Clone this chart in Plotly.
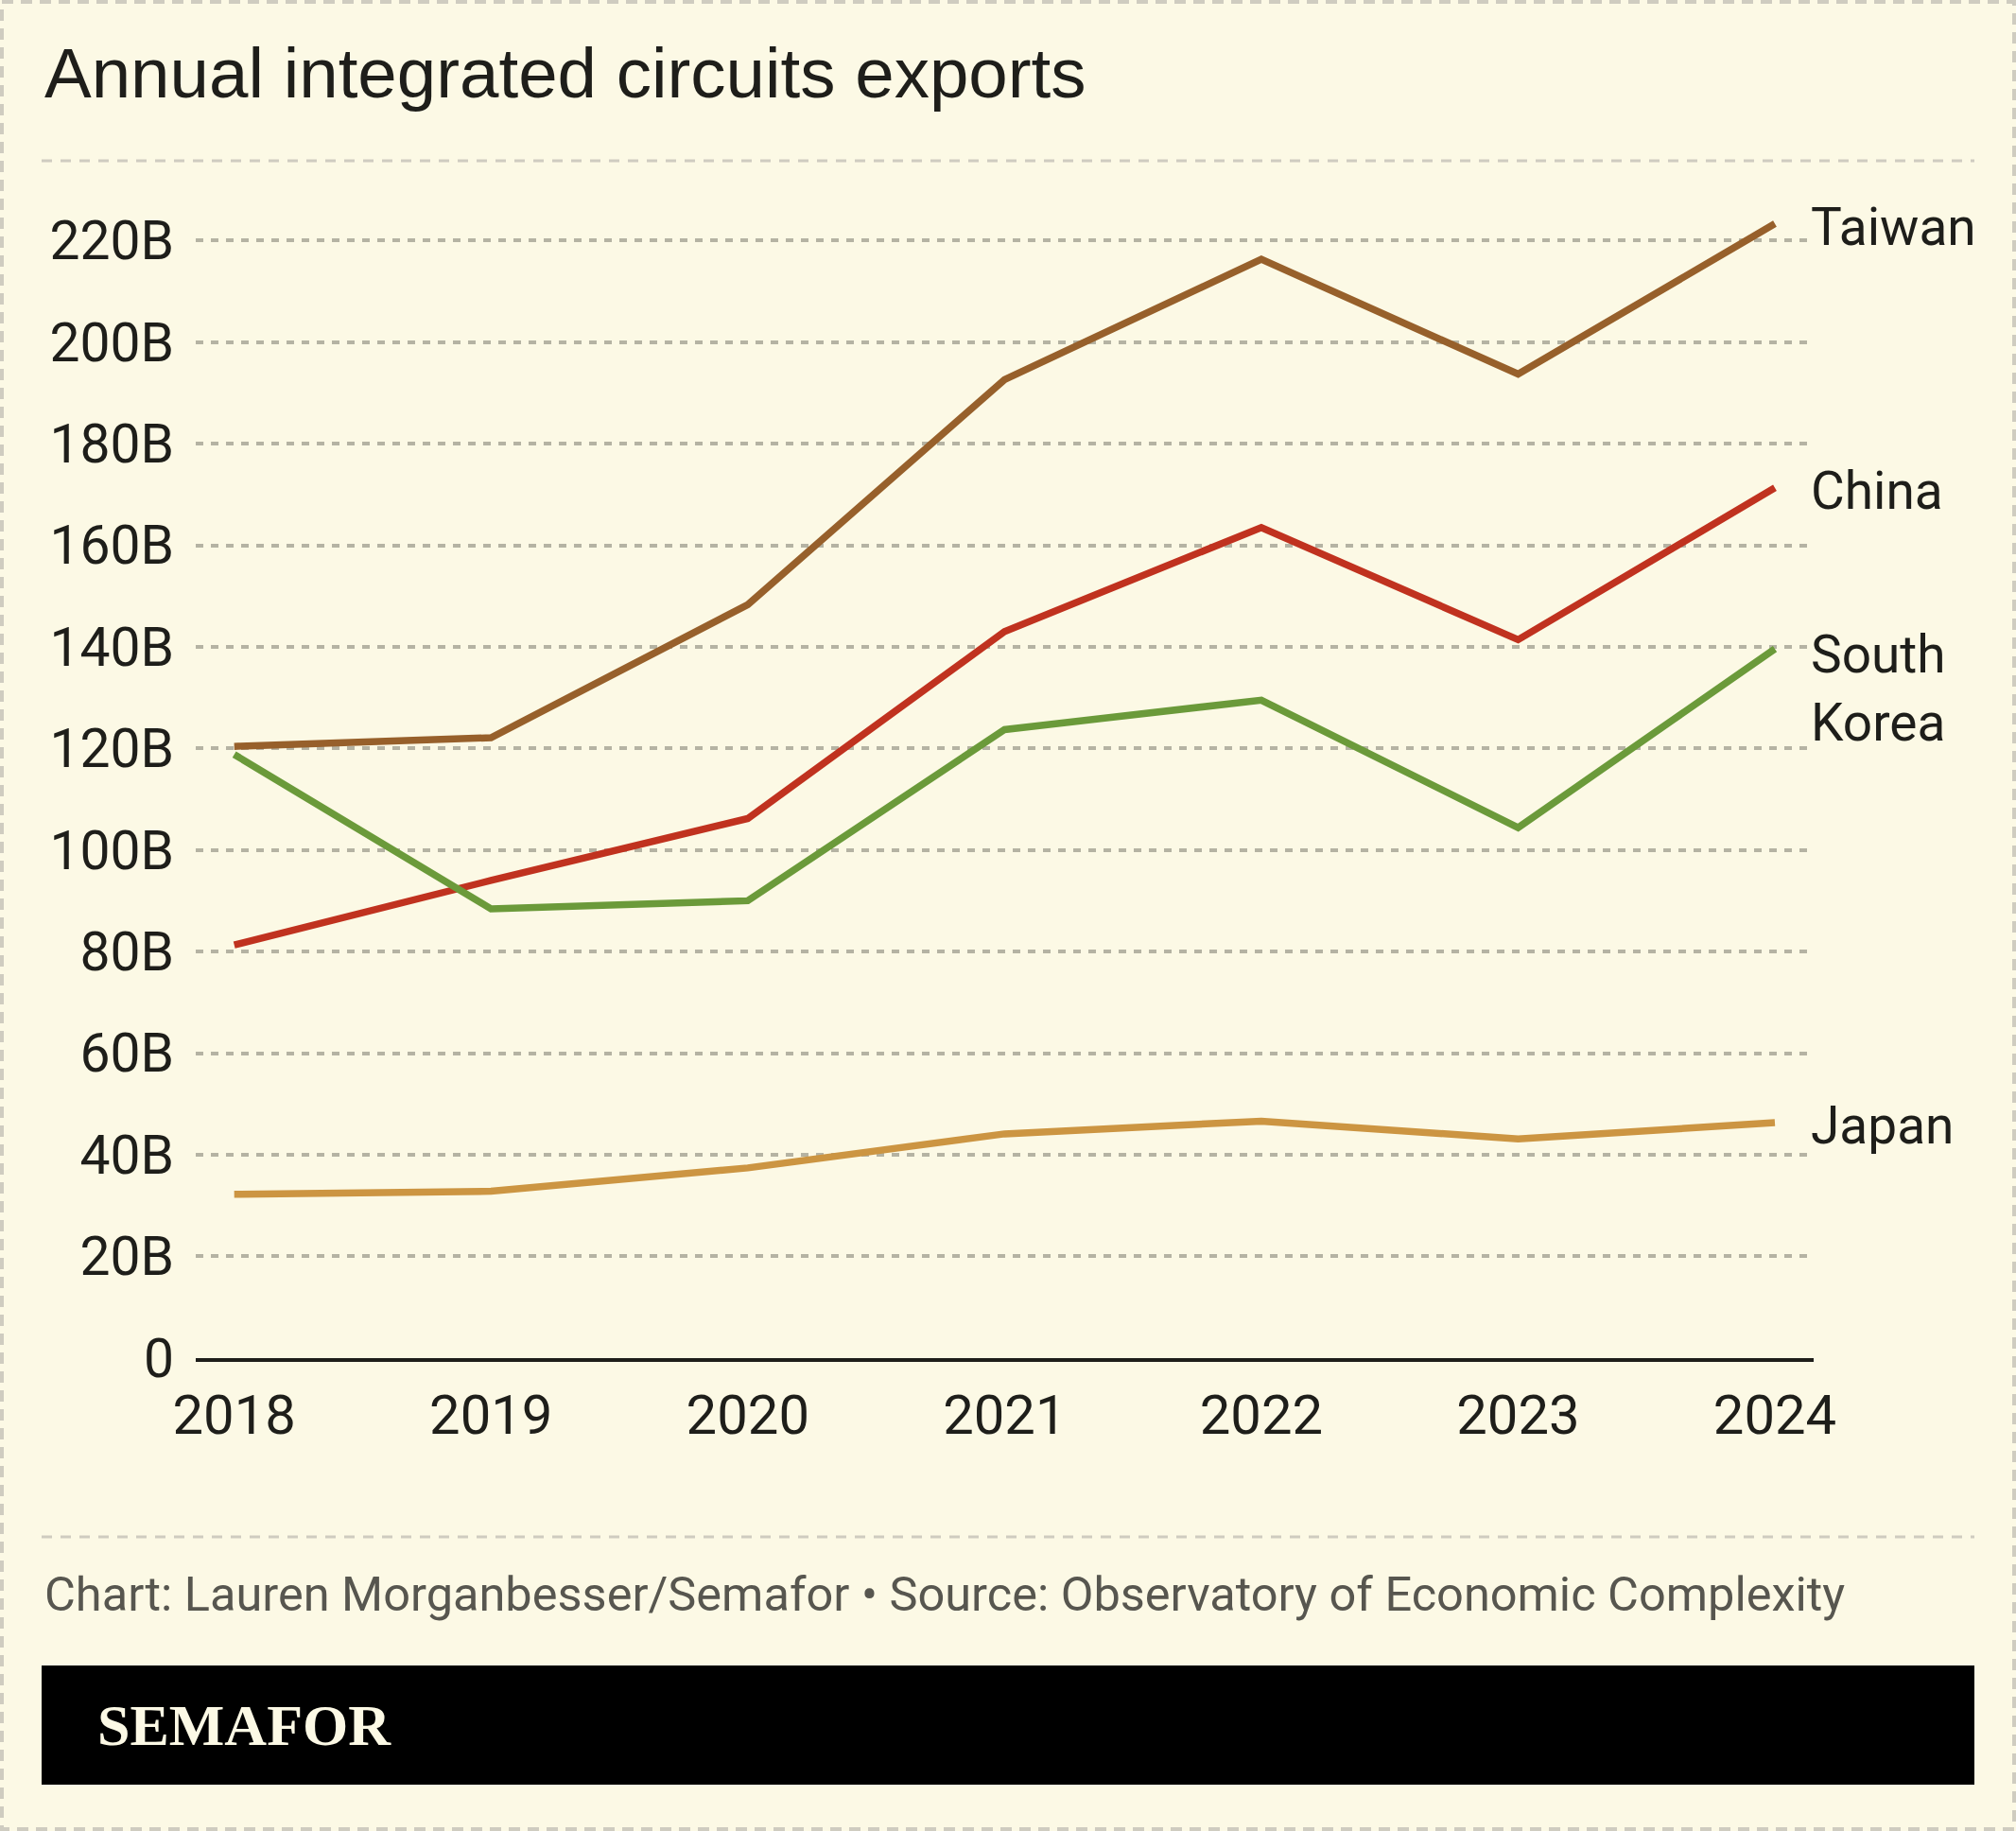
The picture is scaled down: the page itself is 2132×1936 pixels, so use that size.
import plotly.graph_objects as go

# ---------------- data ----------------
years = [2018, 2019, 2020, 2021, 2022, 2023, 2024]
taiwan = [120.4, 122.1, 148.3, 192.6, 216.3, 193.7, 223.3]
china = [81.3, 94.0, 106.2, 143.0, 163.5, 141.4, 171.3]
south_korea = [118.8, 88.4, 90.0, 123.7, 129.5, 104.4, 139.6]
japan = [32.2, 32.8, 37.4, 44.1, 46.6, 43.1, 46.3]

series_names = ["Taiwan", "China", "South<br>Korea", "Japan"]
series_values = [taiwan, china, south_korea, japan]
series_colors = ["#97602B", "#C0321F", "#6B9A3A", "#CC9542"]

y_tickvals = [0, 20, 40, 60, 80, 100, 120, 140, 160, 180, 200, 220]
y_ticktext = ["0", "20B", "40B", "60B", "80B", "100B", "120B", "140B",
              "160B", "180B", "200B", "220B"]

title_text = "Annual integrated circuits exports"
source_text = ("Chart: Lauren Morganbesser/Semafor \u2022 Source: "
               "Observatory of Economic Complexity")
brand_text = "SEMAFOR"

# ---------------- layout helpers ----------------
W, H = 2132, 1936
BG = "#FCF9E5"
INK = "#1E1E1A"
NARROW = "Roboto, sans-serif"


def px(x):
    return x / W


def py(y):
    return 1 - y / H


fig = go.Figure()

for name, vals, col in zip(series_names, series_values, series_colors):
    fig.add_trace(go.Scatter(
        x=years, y=vals, mode="lines", name=name.replace("<br>", " "),
        line=dict(color=col, width=7.5), cliponaxis=False,
        hoverinfo="skip", showlegend=False))
    fig.add_annotation(
        x=years[-1], y=vals[-1], xref="x", yref="y", text=name,
        xanchor="left", yanchor="top" if "<br>" in name else "middle",
        xshift=36, yshift=(28 if "<br>" in name else -3),
        align="left", showarrow=False,
        font=dict(family=NARROW, size=55, color=INK))

shapes = [
    # outer dashed border
    dict(type="rect", xref="paper", yref="paper",
         x0=px(2), x1=px(W - 2), y0=py(2), y1=py(H - 2),
         line=dict(color="#CFCCC0", width=4, dash="12px,8px"), layer="below"),
    # separator under title
    dict(type="line", xref="paper", yref="paper",
         x0=px(44), x1=px(2088), y0=py(170), y1=py(170),
         line=dict(color="#CFCCC0", width=3, dash="11px,9px")),
    # separator above source
    dict(type="line", xref="paper", yref="paper",
         x0=px(44), x1=px(2088), y0=py(1625), y1=py(1625),
         line=dict(color="#CFCCC0", width=3, dash="11px,9px")),
    # black brand band
    dict(type="rect", xref="paper", yref="paper",
         x0=px(44), x1=px(2088), y0=py(1761), y1=py(1887),
         line=dict(width=0), fillcolor="#000000"),
]

annotations = [
    dict(text=title_text, xref="paper", yref="paper", x=px(45), y=py(77),
         xanchor="left", yanchor="middle", showarrow=False,
         font=dict(family="Liberation Sans, Arial, sans-serif", size=74.5,
                   color=INK)),
    dict(text=source_text, xref="paper", yref="paper", x=px(45), y=py(1685),
         xanchor="left", yanchor="middle", showarrow=False,
         font=dict(family=NARROW, size=50.5, color="#57564F")),
    dict(text="<b>" + brand_text + "</b>", xref="paper", yref="paper",
         x=px(101), y=py(1824), xanchor="left", yanchor="middle",
         showarrow=False,
         font=dict(family="Liberation Serif, Times New Roman, serif",
                   size=62, color=BG)),
]
for a in annotations:
    fig.add_annotation(**a)

x_lo = 2018 - (247.7 - 207) / 271.55
x_hi = 2024 + (1918 - 1877) / 271.55
y_top_px = 1435.7 - 225 * 5.37

fig.update_layout(
    template="none",
    width=W, height=H,
    margin=dict(l=0, r=0, t=0, b=0),
    paper_bgcolor=BG, plot_bgcolor=BG,
    shapes=shapes,
    xaxis=dict(
        domain=[px(207), px(1918)], range=[x_lo, x_hi],
        tickvals=years, ticktext=[str(y) for y in years],
        showgrid=False, zeroline=False, showline=True,
        linecolor=INK, linewidth=4, ticks="", ticklabelstandoff=7,
        tickfont=dict(family=NARROW, size=58, color=INK),
        automargin=False, fixedrange=True),
    yaxis=dict(
        domain=[1 - 1435.7 / H, 1 - y_top_px / H], range=[0, 225],
        tickvals=y_tickvals, ticktext=y_ticktext,
        showgrid=True, gridcolor="#B5B3A3", gridwidth=3.5, griddash="8px,8px",
        zeroline=False, showline=False, ticks="", ticklabelstandoff=22,
        tickfont=dict(family=NARROW, size=57, color=INK),
        automargin=False, fixedrange=True),
)

fig.write_html("out.html")
